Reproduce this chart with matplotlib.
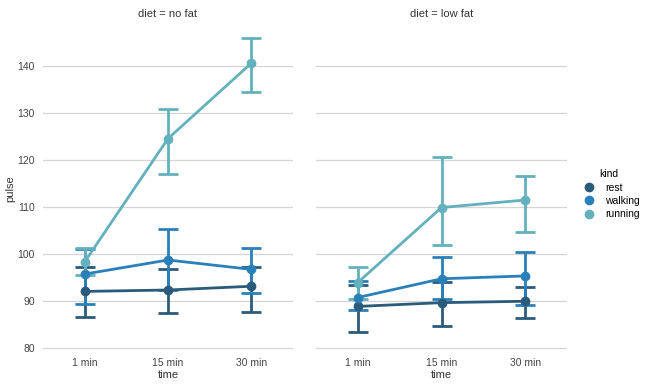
import numpy as np
import matplotlib
matplotlib.use("Agg")
import matplotlib.pyplot as plt

plt.rcParams['font.family'] = ['Liberation Sans', 'DejaVu Sans']

times = ['1 min', '15 min', '30 min']
kinds = ['rest', 'walking', 'running']
diets = ['no fat', 'low fat']
colors = ['#2b5b7a', '#2a80b9', '#62b1bd']

# mean pulse and confidence interval (low, high) per diet -> kind
means = {
    'no fat': {
        'rest': [92.0, 92.3, 93.1],
        'walking': [95.7, 98.7, 96.7],
        'running': [98.3, 124.6, 140.7],
    },
    'low fat': {
        'rest': [88.8, 89.6, 89.9],
        'walking': [90.7, 94.7, 95.3],
        'running': [93.9, 109.9, 111.5],
    },
}
ci_low = {
    'no fat': {
        'rest': [86.5, 87.3, 87.7],
        'walking': [89.4, 92.2, 91.6],
        'running': [95.4, 117.0, 134.6],
    },
    'low fat': {
        'rest': [83.3, 84.6, 86.3],
        'walking': [88.0, 90.3, 89.0],
        'running': [90.3, 101.8, 104.6],
    },
}
ci_high = {
    'no fat': {
        'rest': [97.3, 96.7, 97.3],
        'walking': [101.0, 105.4, 101.3],
        'running': [101.2, 131.0, 146.0],
    },
    'low fat': {
        'rest': [93.3, 94.0, 93.0],
        'walking': [94.2, 99.3, 100.5],
        'running': [97.3, 120.7, 116.7],
    },
}

fig = plt.figure(figsize=(6.5, 3.85), dpi=100)
ax1 = fig.add_axes([43 / 650, 35 / 385, 250 / 650, 322 / 385])
ax2 = fig.add_axes([316 / 650, 35 / 385, 251 / 650, 322 / 385], sharey=ax1)

x = np.arange(len(times))
handles = []
for ax, diet in zip([ax1, ax2], diets):
    for kind, c in zip(kinds, colors):
        m = np.array(means[diet][kind])
        lo = np.array(ci_low[diet][kind])
        hi = np.array(ci_high[diet][kind])
        ax.errorbar(x, m, yerr=[m - lo, hi - m], color=c, lw=2.0,
                    elinewidth=2.0, capsize=7, capthick=2.0,
                    marker='o', markersize=6, zorder=3)
        if diet == diets[0]:
            handles.append(plt.Line2D([], [], ls='', marker='o', color=c, markersize=6))
    ax.set_xlim(-0.5, 2.5)
    ax.set_xticks(x)
    ax.set_xticklabels(times)
    ax.set_xlabel('time', fontsize=8, color='#333333', labelpad=1)
    ax.set_title(f'diet = {diet}', fontsize=8, color='#333333', pad=8)
    ax.grid(axis='y', color='#d5d5d5', lw=0.9)
    ax.set_axisbelow(True)
    for s in ax.spines.values():
        s.set_visible(False)
    ax.tick_params(length=0, labelsize=7.5, colors='#444444', pad=6)

ax1.set_ylim(79.5, 148.2)
ax1.set_yticks([80, 90, 100, 110, 120, 130, 140])
ax1.set_ylabel('pulse', fontsize=8, color='#333333')
ax1.yaxis.set_label_coords(-0.11, 0.5)
ax2.tick_params(labelleft=False)

fig.legend(handles, kinds, title='kind', loc='center left',
           bbox_to_anchor=(574 / 650, 0.495), frameon=False,
           fontsize=7.5, title_fontsize=7.5, handletextpad=0.6,
           labelspacing=0.32, borderaxespad=0)

fig.savefig('out.png', dpi=100)
